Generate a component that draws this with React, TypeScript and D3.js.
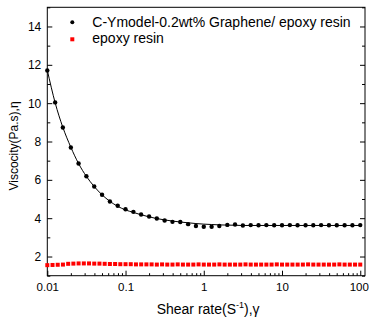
import { useEffect, useRef } from 'react';
import * as d3 from 'd3';

// C-Y model sample (black dots), 10 points per decade
const shearRateC = [
  0.01, 0.0126, 0.0158, 0.02, 0.0251, 0.0316, 0.0398, 0.0501, 0.0631, 0.0794,
  0.1, 0.126, 0.158, 0.2, 0.251, 0.316, 0.398, 0.501, 0.631, 0.794,
  1, 1.26, 1.58, 2, 2.51, 3.16, 3.98, 5.01, 6.31, 7.94,
  10, 12.6, 15.8, 20, 25.1, 31.6, 39.8, 50.1, 63.1, 79.4, 100,
];
const viscosityC = [
  11.7, 10.04, 8.73, 7.69, 6.85, 6.19, 5.65, 5.22, 4.87, 4.65,
  4.47, 4.33, 4.19, 4.09, 3.98, 3.88, 3.81, 3.8, 3.69, 3.59,
  3.55, 3.55, 3.59, 3.65, 3.67, 3.62, 3.64, 3.63, 3.64, 3.63,
  3.63, 3.64, 3.63, 3.63, 3.63, 3.64, 3.63, 3.63, 3.63, 3.63, 3.64,
];
// Carreau-Yasuda fit line
const fitC = [
  11.72, 10.02, 8.74, 7.7, 6.85, 6.18, 5.65, 5.22, 4.88, 4.62,
  4.43, 4.3, 4.18, 4.07, 3.98, 3.91, 3.85, 3.8, 3.76, 3.72,
  3.69, 3.67, 3.65, 3.64, 3.63, 3.62, 3.62, 3.62, 3.62, 3.62,
  3.62, 3.62, 3.62, 3.62, 3.62, 3.62, 3.62, 3.62, 3.62, 3.62, 3.62,
];

// neat epoxy resin (red squares), 15 points per decade
const shearRateE = [
  0.01, 0.01166, 0.01359, 0.01585, 0.01848, 0.02154, 0.02512, 0.02929, 0.03415, 0.03981,
  0.04642, 0.05412, 0.0631, 0.07356, 0.08577,
  0.1, 0.1166, 0.1359, 0.1585, 0.1848, 0.2154, 0.2512, 0.2929, 0.3415, 0.3981,
  0.4642, 0.5412, 0.631, 0.7356, 0.8577,
  1, 1.166, 1.359, 1.585, 1.848, 2.154, 2.512, 2.929, 3.415, 3.981,
  4.642, 5.412, 6.31, 7.356, 8.577,
  10, 11.66, 13.59, 15.85, 18.48, 21.54, 25.12, 29.29, 34.15, 39.81,
  46.42, 54.12, 63.1, 73.56, 85.77, 100,
];
const viscosityE = [
  1.55, 1.56, 1.57, 1.58, 1.62, 1.63, 1.64, 1.64, 1.64, 1.63,
  1.63, 1.62, 1.61, 1.61, 1.6, 1.6, 1.6, 1.59, 1.59, 1.59,
  1.59, 1.58, 1.59, 1.58, 1.58, 1.59, 1.58, 1.58, 1.58, 1.59,
  1.58, 1.58, 1.58, 1.59, 1.58, 1.58, 1.58, 1.58, 1.59, 1.58,
  1.58, 1.58, 1.58, 1.58, 1.59, 1.58, 1.58, 1.58, 1.58, 1.58,
  1.59, 1.58, 1.58, 1.58, 1.58, 1.58, 1.59, 1.58, 1.58, 1.58, 1.58,
];

const xMajor = [0.01, 0.1, 1, 10, 100];
const xLabels = ['0.01', '0.1', '1', '10', '100'];
const yMajor = [2, 4, 6, 8, 10, 12, 14];
const yMinor = [1, 3, 5, 7, 9, 11, 13, 15];

const legendLabels = ['C-Ymodel-0.2wt% Graphene/ epoxy resin', 'epoxy resin'];

const FONT = '"Liberation Sans", Arial, sans-serif';

export default function App() {
  const svgRef = useRef<SVGSVGElement>(null);

  useEffect(() => {
    if (!svgRef.current) return;
    const width = 369;
    const height = 322;
    const margin = { top: 7.3, right: 4, bottom: 46.3, left: 47.3 };
    const innerWidth = width - margin.left - margin.right;
    const innerHeight = height - margin.top - margin.bottom;

    const svg = d3.select(svgRef.current);
    svg.selectAll('*').remove();

    const g = svg.append('g').attr('transform', `translate(${margin.left},${margin.top})`);

    const x = d3.scaleLog().domain([0.01, 115]).range([0, innerWidth]);
    const y = d3.scaleLinear().domain([1, 15]).range([innerHeight, 0]);

    const xMinor: number[] = [];
    for (const dec of [0.01, 0.1, 1, 10, 100]) {
      for (let m = 2; m <= 9; m++) {
        const v = dec * m;
        if (v < 115) xMinor.push(v);
      }
    }

    // bottom axis
    const xAxis = g
      .append('g')
      .attr('transform', `translate(0,${innerHeight})`)
      .call(
        d3.axisBottom(x).tickValues(xMajor).tickFormat((_, i) => xLabels[i]).tickSize(-5).tickSizeOuter(0).tickPadding(7),
      );
    xAxis.select('.domain').remove();
    xAxis
      .selectAll('text')
      .attr('font-size', 11.5)
      .attr('font-family', FONT)
      .attr('fill', '#000')
      .attr('dx', (_, i) => (i === xMajor.length - 1 ? -1.5 : 0));

    g.append('g')
      .attr('transform', `translate(0,${innerHeight})`)
      .call(d3.axisBottom(x).tickValues(xMinor).tickFormat(() => '').tickSize(-2.5).tickSizeOuter(0))
      .select('.domain')
      .remove();

    // left axis
    const yAxis = g
      .append('g')
      .call(d3.axisLeft(y).tickValues(yMajor).tickSize(-5).tickSizeOuter(0).tickPadding(6));
    yAxis.select('.domain').remove();
    yAxis.selectAll('text').attr('font-size', 12).attr('font-family', FONT).attr('fill', '#000');

    g.append('g')
      .call(d3.axisLeft(y).tickValues(yMinor).tickFormat(() => '').tickSize(-3).tickSizeOuter(0))
      .select('.domain')
      .remove();

    // right axis, mirrored ticks
    g.append('g')
      .attr('transform', `translate(${innerWidth},0)`)
      .call(d3.axisRight(y).tickValues(yMajor).tickFormat(() => '').tickSize(-5).tickSizeOuter(0))
      .select('.domain')
      .remove();
    g.append('g')
      .attr('transform', `translate(${innerWidth},0)`)
      .call(d3.axisRight(y).tickValues(yMinor).tickFormat(() => '').tickSize(-3).tickSizeOuter(0))
      .select('.domain')
      .remove();

    // frame
    g.append('rect')
      .attr('width', innerWidth)
      .attr('height', innerHeight)
      .attr('fill', 'none')
      .attr('stroke', '#000')
      .attr('stroke-width', 1);

    // fit line
    const line = d3
      .line<number>()
      .x((_, i) => x(shearRateC[i]))
      .y((d) => y(d))
      .curve(d3.curveMonotoneX);
    g.append('path').datum(fitC).attr('d', line).attr('fill', 'none').attr('stroke', '#000').attr('stroke-width', 1);

    // epoxy resin squares
    g.selectAll('rect.ep')
      .data(viscosityE)
      .join('rect')
      .attr('class', 'ep')
      .attr('x', (_, i) => x(shearRateE[i]) - 2)
      .attr('y', (d) => y(d) - 2)
      .attr('width', 4)
      .attr('height', 4)
      .attr('fill', '#ff0000');

    // C-Y dots
    g.selectAll('circle.cy')
      .data(viscosityC)
      .join('circle')
      .attr('class', 'cy')
      .attr('cx', (_, i) => x(shearRateC[i]))
      .attr('cy', (d) => y(d))
      .attr('r', 2.2)
      .attr('fill', '#000');

    // legend
    const legend = svg.append('g').attr('transform', 'translate(72.3,0)');
    legend.append('circle').attr('cx', 0).attr('cy', 22.3).attr('r', 2).attr('fill', '#000');
    legend.append('rect').attr('x', -2).attr('y', 37.3).attr('width', 4).attr('height', 4).attr('fill', '#ff0000');
    legendLabels.forEach((t, i) => {
      legend
        .append('text')
        .attr('x', 20)
        .attr('y', 27 + i * 16.3)
        .attr('font-size', 14)
        .attr('font-family', FONT)
        .attr('fill', '#000')
        .text(t);
    });

    // axis titles
    const xt = svg
      .append('text')
      .attr('x', margin.left + innerWidth / 2 + 2)
      .attr('y', 314)
      .attr('text-anchor', 'middle')
      .attr('font-size', 14)
      .attr('font-family', FONT)
      .attr('fill', '#000');
    xt.append('tspan').text('Shear rate(S');
    xt.append('tspan').attr('dy', -6).attr('font-size', 9).text('-1');
    xt.append('tspan').attr('dy', 6).text('),γ');

    svg
      .append('text')
      .attr('transform', 'translate(18,146) rotate(-90)')
      .attr('text-anchor', 'middle')
      .attr('font-size', 12)
      .attr('font-family', FONT)
      .attr('fill', '#000')
      .text('Viscocity(Pa.s),η');
  }, []);

  return (
    <svg
      ref={svgRef}
      width={369}
      height={322}
      style={{ position: 'absolute', left: 0, top: 0, background: '#fff' }}
    />
  );
}
